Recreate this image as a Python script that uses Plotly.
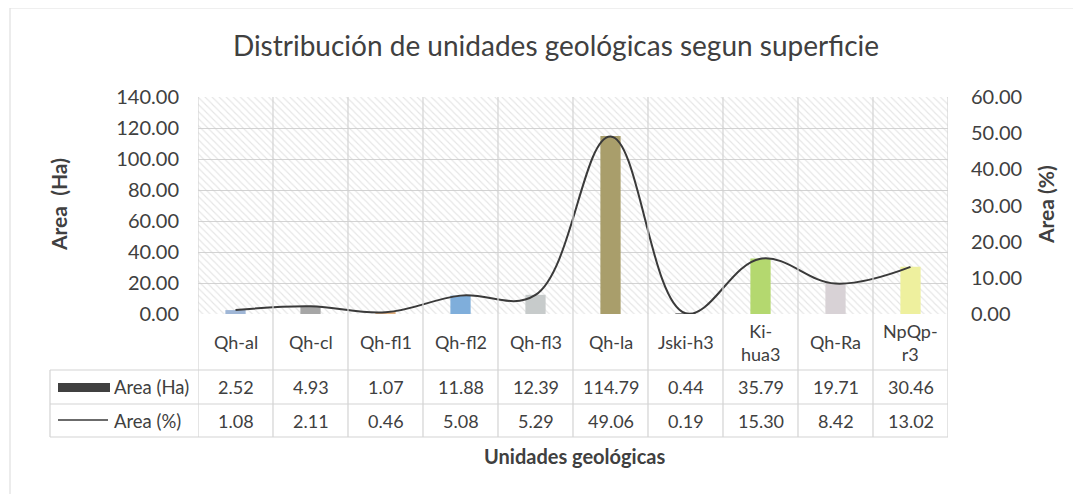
import plotly.graph_objects as go

# ---- data ----
categories = ["Qh-al", "Qh-cl", "Qh-fl1", "Qh-fl2", "Qh-fl3", "Qh-la",
              "Jski-h3", "Ki-hua3", "Qh-Ra", "NpQp-r3"]
tick_labels = ["Qh-al", "Qh-cl", "Qh-fl1", "Qh-fl2", "Qh-fl3", "Qh-la",
               "Jski-h3", "Ki-<br>hua3", "Qh-Ra", "NpQp-<br>r3"]
area_ha = [2.52, 4.93, 1.07, 11.88, 12.39, 114.79, 0.44, 35.79, 19.71, 30.46]
area_pct = [1.08, 2.11, 0.46, 5.08, 5.29, 49.06, 0.19, 15.30, 8.42, 13.02]
bar_colors = ["#9fb6d6", "#a6a6a6", "#e0b080", "#7faedb", "#c7cbcb", "#a99e6b",
              "#8c8c8c", "#b4d86f", "#d8d2d6", "#eef09e"]
y_left_ticks = [0, 20, 40, 60, 80, 100, 120, 140]
y_right_ticks = [0, 10, 20, 30, 40, 50, 60]

FONT = "Lato"
TXT = "#404040"
GRID = "#d3d3d3"

# target pixel geometry (screen coords); page body has an 8px margin
OFF = 8
SW, SH = 1081, 494
L, R, T, B = 198, 948, 97, 314
W, H = SW - OFF, SH - OFF

def px(x):
    return (x - L) / (R - L)

def py(y):
    return (B - y) / (B - T)

fig = go.Figure()

# hatched plot background
fig.add_trace(go.Bar(
    x=categories, y=[max(y_left_ticks)] * len(categories), width=1,
    marker=dict(color="rgba(0,0,0,0)", line=dict(width=0),
                pattern=dict(shape="\\", fgcolor="#cccccc", bgcolor="rgba(0,0,0,0)",
                             size=5, solidity=0.22)),
    hoverinfo="skip", showlegend=False))

fig.add_trace(go.Bar(
    x=categories, y=area_ha, width=0.27, name="Area (Ha)",
    marker=dict(color=bar_colors, line=dict(width=0)), showlegend=False))

fig.add_trace(go.Scatter(
    x=categories, y=area_pct, yaxis="y2", mode="lines", name="Area (%)",
    line=dict(color="#3a3a3a", width=2, shape="spline", smoothing=1.1),
    showlegend=False))

shapes = []
for i in range(len(categories) + 1):
    shapes.append(dict(type="line", xref="x", yref="paper", x0=i - 0.5, x1=i - 0.5,
                       y0=1, y1=py(437), line=dict(color=GRID, width=1.2)))
for yy in (370, 404, 437):
    shapes.append(dict(type="line", xref="paper", yref="paper", x0=px(50), x1=1,
                       y0=py(yy), y1=py(yy), line=dict(color=GRID, width=1.2)))
shapes.append(dict(type="line", xref="paper", yref="paper", x0=px(50), x1=px(50),
                   y0=py(370), y1=py(437), line=dict(color=GRID, width=1.2)))
# legend keys in table
shapes.append(dict(type="rect", xref="paper", yref="paper", x0=px(58), x1=px(110),
                   y0=py(392), y1=py(383), fillcolor="#404040", line=dict(width=0)))
shapes.append(dict(type="line", xref="paper", yref="paper", x0=px(58), x1=px(108),
                   y0=py(420), y1=py(420), line=dict(color="#3a3a3a", width=1.5)))
# outer chart border
shapes.append(dict(type="rect", xref="paper", yref="paper", x0=px(10), x1=px(1077),
                   y0=py(8), y1=py(540), line=dict(color="#e0e0e0", width=1.2),
                   fillcolor="rgba(0,0,0,0)", layer="below"))

ann = []
for c, lab, ha, pc in zip(categories, tick_labels, area_ha, area_pct):
    ann.append(dict(x=c, xref="x", y=py(342), yref="paper", text=lab, showarrow=False,
                    font=dict(size=18, color=TXT, family=FONT), xanchor="center",
                    yanchor="middle"))
    ann.append(dict(x=c, xref="x", y=py(387), yref="paper", text=f"{ha:.2f}",
                    showarrow=False, font=dict(size=18, color=TXT, family=FONT),
                    xanchor="center", yanchor="middle"))
    ann.append(dict(x=c, xref="x", y=py(420.5), yref="paper", text=f"{pc:.2f}",
                    showarrow=False, font=dict(size=18, color=TXT, family=FONT),
                    xanchor="center", yanchor="middle"))
ann.append(dict(x=px(112), xref="paper", y=py(387), yref="paper", text="Area (Ha)",
                showarrow=False, font=dict(size=18.5, color=TXT, family=FONT),
                xanchor="left", yanchor="middle"))
ann.append(dict(x=px(112), xref="paper", y=py(420.5), yref="paper", text="Area (%)",
                showarrow=False, font=dict(size=18.5, color=TXT, family=FONT),
                xanchor="left", yanchor="middle"))
ann.append(dict(x=px(58), xref="paper", y=py(205), yref="paper", text="<b>Area  (Ha)</b>",
                textangle=-90, showarrow=False, font=dict(size=21, color=TXT, family=FONT),
                xanchor="center", yanchor="middle"))
ann.append(dict(x=px(1045), xref="paper", y=py(205), yref="paper", text="<b>Area (%)</b>",
                textangle=-90, showarrow=False, font=dict(size=21, color=TXT, family=FONT),
                xanchor="center", yanchor="middle"))
ann.append(dict(x=px(574), xref="paper", y=py(456), yref="paper",
                text="<b>Unidades geológicas</b>", showarrow=False,
                font=dict(size=20, color=TXT, family=FONT), xanchor="center",
                yanchor="middle"))

fig.update_layout(
    width=W, height=H,
    margin=dict(l=L - OFF, r=SW - R, t=T - OFF, b=SH - B, pad=0),
    paper_bgcolor="white", plot_bgcolor="white",
    barmode="overlay",
    title=dict(text="Distribución de unidades geológicas segun superficie",
               x=px(556), xref="paper", xanchor="center",
               y=1 - (46 - OFF) / H, yref="container", yanchor="middle",
               font=dict(size=28, color="#404040", family=FONT)),
    font=dict(family=FONT, color=TXT),
    xaxis=dict(type="category", range=[-0.5, len(categories) - 0.5],
               showticklabels=False, showgrid=False, showline=False, zeroline=False,
               ticks=""),
    yaxis=dict(range=[0, max(y_left_ticks)], tickvals=y_left_ticks, tickformat=".2f",
               showgrid=True, gridcolor=GRID, gridwidth=1.2, zeroline=False,
               showline=False, ticks="", ticklabelstandoff=18,
               tickfont=dict(size=20, color=TXT, family=FONT)),
    yaxis2=dict(range=[0, max(y_right_ticks)], tickvals=y_right_ticks, tickformat=".2f",
                overlaying="y", side="right", showgrid=False, zeroline=False,
                showline=False, ticks="", ticklabelstandoff=22,
                tickfont=dict(size=20, color=TXT, family=FONT)),
    shapes=shapes, annotations=ann,
)

fig.write_html("out.html")
